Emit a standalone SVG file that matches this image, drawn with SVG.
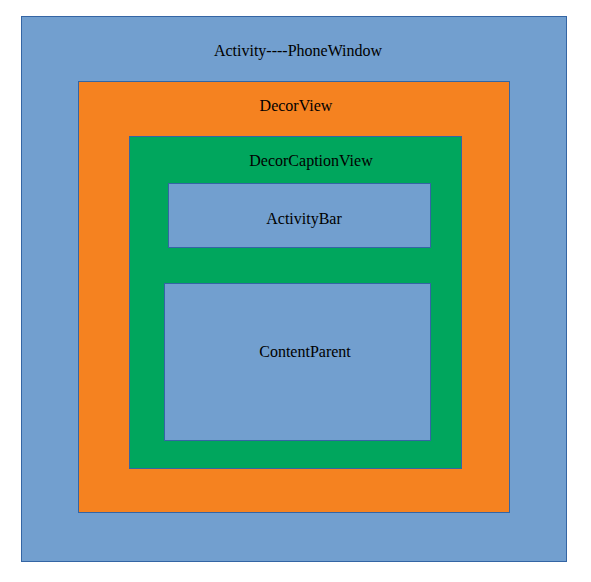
<svg xmlns="http://www.w3.org/2000/svg" width="591" height="582" viewBox="0 0 591 582">
<style>
rect{stroke:#3465a4;stroke-width:1}
.b{fill:#729fcf}
.o{fill:#f58220}
.g{fill:#00a65d}
text{font-family:"Liberation Serif",serif;font-size:16px;fill:#000;text-anchor:middle}
</style>
<rect width="591" height="582" fill="#fff" style="stroke:none"/>
<g id="phonewindow"><rect class="b" x="21.5" y="16.5" width="545" height="545"/><text x="298" y="56">Activity----PhoneWindow</text></g>
<g id="decorview"><rect class="o" x="78.5" y="81.5" width="431" height="431"/><text x="296" y="111">DecorView</text></g>
<g id="decorcaptionview"><rect class="g" x="129.5" y="136.5" width="332" height="332"/><text x="311" y="166">DecorCaptionView</text></g>
<g id="activitybar"><rect class="b" x="168.5" y="183.5" width="262" height="64"/><text x="304" y="224">ActivityBar</text></g>
<g id="contentparent"><rect class="b" x="164.5" y="283.5" width="266" height="157"/><text x="305" y="357">ContentParent</text></g>
<g id="connectors"/>
</svg>
